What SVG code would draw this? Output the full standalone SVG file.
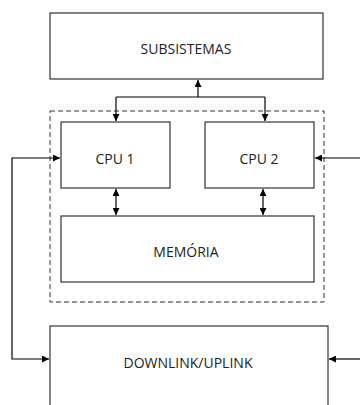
<svg xmlns="http://www.w3.org/2000/svg" width="360" height="405" viewBox="0 0 360 405">
<style>
.box{fill:#fff;stroke:#333;stroke-width:1.2}
.t{font-family:"Open Sans",sans-serif;font-size:14px;fill:#222;text-anchor:middle;dominant-baseline:central}
.c{fill:none;stroke:#000;stroke-width:1.2}
</style>
<defs>
<marker id="a" viewBox="0 0 10 10" refX="10" refY="5" markerWidth="7" markerHeight="7" markerUnits="userSpaceOnUse" orient="auto-start-reverse"><path d="M0,0L10,5L0,10z" fill="#000"/></marker>
</defs>
<rect width="360" height="405" fill="#fff"/>
<g id="group">
<rect x="50" y="111" width="274" height="191" fill="none" stroke="#333" stroke-width="1" stroke-dasharray="5,3"/>
</g>
<g id="subsistemas"><rect class="box" x="50" y="13" width="273" height="66"/><text class="t" x="186" y="48">SUBSISTEMAS</text></g>
<g id="cpu1"><rect class="box" x="61" y="122" width="109" height="66"/><text class="t" x="115" y="158">CPU 1</text></g>
<g id="cpu2"><rect class="box" x="205" y="122" width="109" height="66"/><text class="t" x="259" y="158">CPU 2</text></g>
<g id="memoria"><rect class="box" x="61" y="216" width="253" height="66"/><text class="t" x="186" y="251">MEMÓRIA</text></g>
<g id="downlink"><rect class="box" x="50" y="326" width="278" height="90"/><text class="t" x="188" y="362">DOWNLINK/UPLINK</text></g>
<g id="connectors">
<path class="c" d="M198,97V80" marker-end="url(#a)"/>
<path class="c" d="M116,97H265"/>
<path class="c" d="M116,97V121" marker-end="url(#a)"/>
<path class="c" d="M265,97V121" marker-end="url(#a)"/>
<path class="c" d="M116,189V215" marker-start="url(#a)" marker-end="url(#a)"/>
<path class="c" d="M263,189V215" marker-start="url(#a)" marker-end="url(#a)"/>
<path class="c" d="M60,158H12V359H49" marker-start="url(#a)" marker-end="url(#a)"/>
<path class="c" d="M360,158H315" marker-end="url(#a)"/>
<path class="c" d="M360,359H329" marker-end="url(#a)"/>
</g>
</svg>
